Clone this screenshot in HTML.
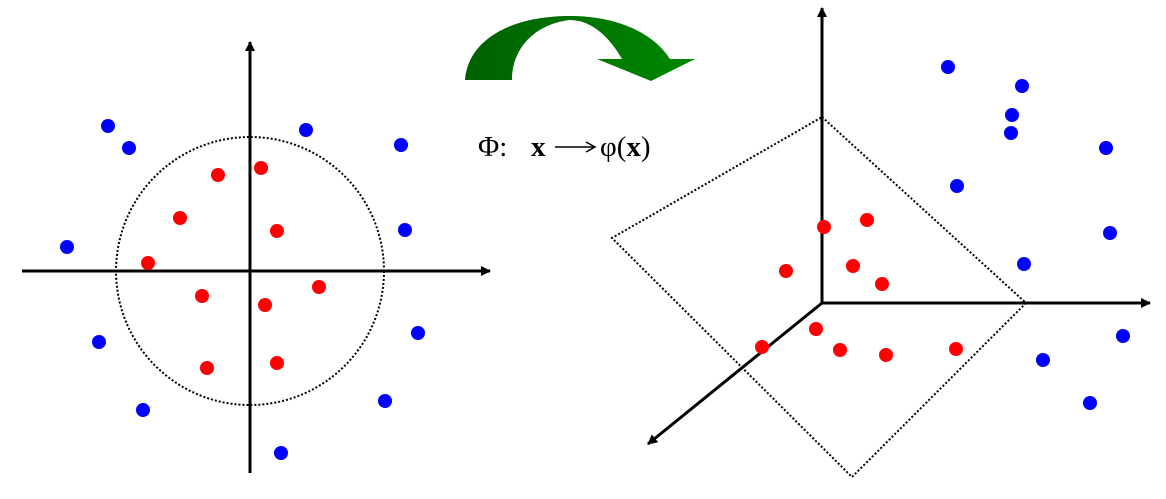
<!DOCTYPE html>
<html><head><style>html,body{margin:0;padding:0;background:#fff;width:1166px;height:499px;overflow:hidden}</style></head>
<body>
<svg width="1166" height="499" viewBox="0 0 1166 499" xmlns="http://www.w3.org/2000/svg">
<defs>
<marker id="ah" markerWidth="10" markerHeight="10" refX="9" refY="5" orient="auto" markerUnits="userSpaceOnUse">
<path d="M0,0 L10,5 L0,10 z" fill="#000"/></marker>
<linearGradient id="g" x1="0" x2="1" y1="0" y2="0"><stop offset="0" stop-color="#006000"/><stop offset="1" stop-color="#008800"/></linearGradient>
</defs>
<line x1="22" y1="271" x2="490" y2="271" stroke="#000" stroke-width="3" marker-end="url(#ah)"/>
<line x1="250" y1="473" x2="250" y2="42" stroke="#000" stroke-width="3" marker-end="url(#ah)"/>
<circle cx="250" cy="271" r="134" fill="none" stroke="#000" stroke-width="2" stroke-dasharray="2,2"/>
<g fill="#ff0000">
<circle cx="261" cy="168" r="7"/><circle cx="218" cy="175" r="7"/><circle cx="180" cy="218" r="7"/><circle cx="277" cy="231" r="7"/>
<circle cx="148" cy="263" r="7"/><circle cx="202" cy="296" r="7"/><circle cx="319" cy="287" r="7"/><circle cx="265" cy="305" r="7"/>
<circle cx="207" cy="368" r="7"/><circle cx="277" cy="363" r="7"/>
</g>
<g fill="#0000ff">
<circle cx="108" cy="126" r="7"/><circle cx="129" cy="148" r="7"/><circle cx="306" cy="130" r="7"/><circle cx="401" cy="145" r="7"/>
<circle cx="67" cy="247" r="7"/><circle cx="405" cy="230" r="7"/><circle cx="99" cy="342" r="7"/><circle cx="418" cy="333" r="7"/>
<circle cx="143" cy="410" r="7"/><circle cx="385" cy="401" r="7"/><circle cx="281" cy="453" r="7"/>
</g>
<path d="M465,80 C468,40 510,16 570,16 C620,16 655,35 670,59 L695,59 L651,81 L597,59 L622,59 C610,38 592,20 570,20 C535,24 512,48 512,80 Z" fill="url(#g)"/>
<g font-family="Liberation Serif, serif" font-size="29">
<text x="478" y="156">Φ:</text>
<text x="531" y="156" font-weight="bold">x</text>
<line x1="555" y1="147" x2="593" y2="147" stroke="#000" stroke-width="1.5"/>
<path d="M586,142 L595,147 L586,152" fill="none" stroke="#000" stroke-width="1.5"/>
<text x="600" y="156">φ(<tspan font-weight="bold">x</tspan>)</text>
</g>
<polygon points="822,117 1026,303 852,477 612,238" fill="none" stroke="#000" stroke-width="2" stroke-dasharray="2,2"/>
<line x1="822" y1="303" x2="822" y2="8" stroke="#000" stroke-width="3" marker-end="url(#ah)"/>
<line x1="822" y1="303" x2="1150" y2="303" stroke="#000" stroke-width="3" marker-end="url(#ah)"/>
<line x1="822" y1="303" x2="648" y2="444" stroke="#000" stroke-width="3" marker-end="url(#ah)"/>
<g fill="#ff0000">
<circle cx="824" cy="227" r="7"/><circle cx="867" cy="220" r="7"/><circle cx="786" cy="271" r="7"/><circle cx="853" cy="266" r="7"/>
<circle cx="882" cy="284" r="7"/><circle cx="816" cy="329" r="7"/><circle cx="840" cy="350" r="7"/><circle cx="886" cy="355" r="7"/>
<circle cx="956" cy="349" r="7"/><circle cx="762" cy="347" r="7"/>
</g>
<g fill="#0000ff">
<circle cx="948" cy="67" r="7"/><circle cx="1022" cy="86" r="7"/><circle cx="1012" cy="115" r="7"/><circle cx="1011" cy="133" r="7"/>
<circle cx="1106" cy="148" r="7"/><circle cx="957" cy="186" r="7"/><circle cx="1110" cy="233" r="7"/><circle cx="1024" cy="264" r="7"/>
<circle cx="1123" cy="336" r="7"/><circle cx="1043" cy="360" r="7"/><circle cx="1090" cy="403" r="7"/>
</g>
</svg>
</body></html>
